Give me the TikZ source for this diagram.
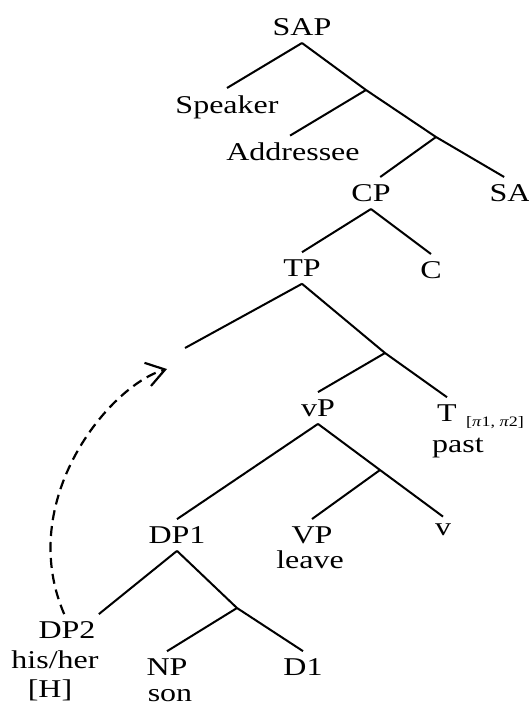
\documentclass[tikz,border=0pt]{standalone}
\usepackage{fontspec}
\setmainfont{Liberation Serif}
\usetikzlibrary{arrows.meta}
\newcommand{\sq}[1]{\scalebox{1}[0.8]{#1}}

\begin{document}
\begin{tikzpicture}[
    x=0.5pt, y=-0.5pt,
    lbl/.style={inner xsep=1.5pt, inner ysep=3.5pt, font=\fontsize{16}{18}\selectfont},
    sub/.style={inner sep=0pt, font=\fontsize{9}{10}\selectfont},
    branch/.style={line width=1pt},
    move/.style={line width=1.1pt, dash pattern=on 5pt off 3pt, -{Straight Barb[length=9pt, width=12pt, line width=1.1pt]}}
]
\useasboundingbox (0,0) rectangle (529,708);

% labels
\node[lbl] (sap) at (302,27) {\sq{SAP}};
\node[lbl] (spk) at (227,107) {\sq{Speaker}};
\node[lbl] (adr) at (293,152) {\sq{Addressee}};
\node[lbl] (cp) at (371,193) {\sq{CP}};
\node[lbl] (sa) at (510,193) {\sq{SA}};
\node[lbl] (tp) at (302,268) {\sq{TP}};
\node[lbl] (cc) at (431,270) {\sq{C}};
\node[lbl] (vsp) at (318,408) {\sq{vP}};
\node[lbl] (tt) at (447,413) {\sq{T}};
\node[sub] (ttsub) at (495,423) {\sq{[\textit{π}1, \textit{π}2]}};
\node[lbl] (past) at (458,448) {\sq{past}};
\node[lbl] (dpone) at (177,535) {\sq{DP1}};
\node[lbl] (vpp) at (312,535) {\sq{VP}};
\node[lbl] (leave) at (310,560) {\sq{leave}};
\node[lbl] (littlev) at (443,530) {\sq{v}};
\node[lbl] (dptwo) at (67,630) {\sq{DP2}};
\node[lbl] (hisher) at (55,660) {\sq{his/her}};
\node[lbl] (hh) at (50,690) {\sq{[H]}};
\node[lbl] (np) at (167,667) {\sq{NP}};
\node[lbl] (son) at (170,696) {\sq{son}};
\node[lbl] (done) at (303,667) {\sq{D1}};

% bar levels
\coordinate (b1) at (366,90);
\coordinate (b2) at (436,137);
\coordinate (b3) at (385,353);
\coordinate (b4) at (380,470);
\coordinate (b5) at (237,608);
\coordinate (spec) at (185,348);
\coordinate (land) at (167,369);

% branches
\draw[branch] (sap.south) -- (spk.north);
\draw[branch] (sap.south) -- (b1) -- (b2) -- (sa.110);
\draw[branch] (b1) -- (adr.100);
\draw[branch] (b2) -- (cp.60);
\draw[branch] (cp.south) -- (tp.north);
\draw[branch] (cp.south) -- (cc.north);
\draw[branch] (tp.south) -- (spec);
\draw[branch] (tp.south) -- (b3) -- (tt.north);
\draw[branch] (b3) -- (vsp.north);
\draw[branch] (vsp.south) -- (dpone.north);
\draw[branch] (vsp.south) -- (b4) -- (littlev.north);
\draw[branch] (b4) -- (vpp.north);
\draw[branch] (dpone.south) -- (dptwo.north east);
\draw[branch] (dpone.south) -- (b5) -- (done.north);
\draw[branch] (b5) -- (np.north);

% movement
\draw[move] (dptwo.100) .. controls (15,500) and (110,385) .. (land);
\end{tikzpicture}
\end{document}
